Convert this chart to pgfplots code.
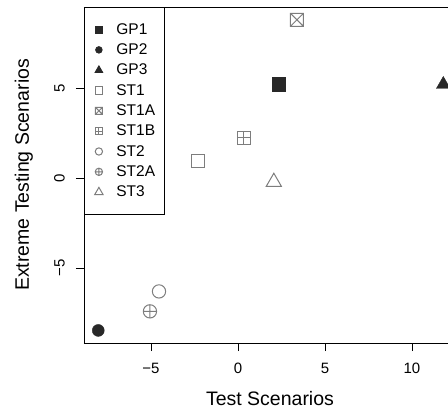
\documentclass[border=0pt]{standalone}
\usepackage{fontspec}
\setmainfont{Liberation Sans}
\usepackage{pgfplots}
\pgfplotsset{compat=1.18}
\usetikzlibrary{plotmarks}
\definecolor{darkpt}{RGB}{40,40,40}
\definecolor{graypt}{RGB}{125,125,125}

% square with a cross inside, square with a plus inside
\pgfdeclareplotmark{boxx}{%
  \pgfpathrectangle{\pgfqpoint{-\pgfplotmarksize}{-\pgfplotmarksize}}{\pgfqpoint{2\pgfplotmarksize}{2\pgfplotmarksize}}%
  \pgfpathmoveto{\pgfqpoint{-\pgfplotmarksize}{-\pgfplotmarksize}}%
  \pgfpathlineto{\pgfqpoint{\pgfplotmarksize}{\pgfplotmarksize}}%
  \pgfpathmoveto{\pgfqpoint{-\pgfplotmarksize}{\pgfplotmarksize}}%
  \pgfpathlineto{\pgfqpoint{\pgfplotmarksize}{-\pgfplotmarksize}}%
  \pgfusepathqstroke}
\pgfdeclareplotmark{boxplus}{%
  \pgfpathrectangle{\pgfqpoint{-\pgfplotmarksize}{-\pgfplotmarksize}}{\pgfqpoint{2\pgfplotmarksize}{2\pgfplotmarksize}}%
  \pgfpathmoveto{\pgfqpoint{-\pgfplotmarksize}{0pt}}%
  \pgfpathlineto{\pgfqpoint{\pgfplotmarksize}{0pt}}%
  \pgfpathmoveto{\pgfqpoint{0pt}{-\pgfplotmarksize}}%
  \pgfpathlineto{\pgfqpoint{0pt}{\pgfplotmarksize}}%
  \pgfusepathqstroke}

\begin{document}
\begin{tikzpicture}
\begin{axis}[
  name=ax,
  scale only axis,
  width=364pt, height=336pt,
  xmin=-8.85, xmax=12.07, ymin=-9.17, ymax=9.52,
  axis x line*=box, axis y line*=left,
  xtick={-5,0,5,10}, xticklabels={−5,0,5,10},
  ytick={-5,0,5}, yticklabels={−5,0,5},
  xtick pos=bottom, ytick pos=left,
  tick align=outside, major tick length=8pt,
  tick style={black, line width=0.8pt},
  axis line style={black, line width=0.8pt},
  ticklabel style={font=\fontsize{15}{18}\selectfont},
  yticklabel style={rotate=90, anchor=south},
  xticklabel shift=8.5pt, yticklabel shift=7.7pt,
  xlabel={Test Scenarios}, ylabel={Extreme Testing Scenarios},
  label style={font=\fontsize{19.5}{23}\selectfont},
  xlabel style={at={(axis description cs:0.511,-0.1667)}, anchor=center},
  ylabel style={at={(axis description cs:-0.165,0.5)}, anchor=center},
  clip marker paths=true,
  legend cell align=left,
  legend style={at={(0,1)}, anchor=north west, draw=black, line width=0.8pt, fill=white,
    inner xsep=9pt, inner ysep=16pt, font=\fontsize{15.5}{18}\selectfont,
    row sep=8pt, column sep=12pt, nodes={inner sep=0pt}},
  legend image code/.code={%
    \draw[#1, /tikz/every mark/.append style={scale=0.55}] plot coordinates {(0pt,0pt)};
    \path[draw=none, fill=none] (-5.5pt,0pt) -- (5.5pt,0pt);},
]
\addplot[only marks, mark=square*, mark size=6.6pt, darkpt] coordinates {(2.32,5.23)};
\addlegendentry{GP1}
\addplot[only marks, mark=*, mark size=6pt, darkpt] coordinates {(-8.03,-8.47)};
\addlegendentry{GP2}
\addplot[only marks, mark=triangle*, mark size=8pt, darkpt] coordinates {(11.8,5.21)};
\addlegendentry{GP3}
\addplot[only marks, mark=square, mark size=6.5pt, graypt, line width=1pt] coordinates {(-2.28,0.98)};
\addlegendentry{ST1}
\addplot[only marks, mark=boxx, mark size=6.5pt, graypt, line width=1pt] coordinates {(3.39,8.81)};
\addlegendentry{ST1A}
\addplot[only marks, mark=boxplus, mark size=6.5pt, graypt, line width=1pt] coordinates {(0.33,2.26)};
\addlegendentry{ST1B}
\addplot[only marks, mark=o, mark size=6.65pt, graypt, line width=1pt] coordinates {(-4.54,-6.30)};
\addlegendentry{ST2}
\addplot[only marks, mark=oplus, mark size=6.65pt, graypt, line width=1pt] coordinates {(-5.06,-7.41)};
\addlegendentry{ST2A}
\addplot[only marks, mark=triangle, mark size=8.7pt, graypt, line width=1pt] coordinates {(2.06,-0.21)};
\addlegendentry{ST3}
\end{axis}
\pgfresetboundingbox
\path[use as bounding box] ([shift={(-84pt,-69pt)}]ax.south west) rectangle ([shift={(0pt,7pt)}]ax.north east);
\end{tikzpicture}
\end{document}
